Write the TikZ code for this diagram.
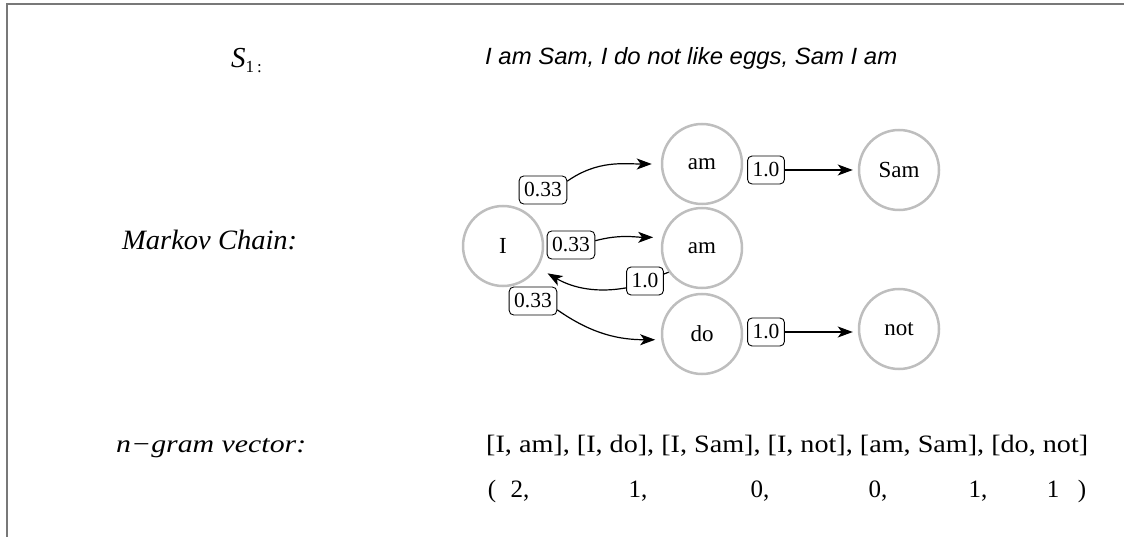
\documentclass[tikz,border=0pt]{standalone}
\usepackage{graphicx}
\usepackage{fontspec}
\setmainfont{Liberation Serif}
\newfontfamily\sentfont{Liberation Sans}
\usetikzlibrary{arrows.meta}
\definecolor{ringgray}{RGB}{190,190,190}
\definecolor{framegray}{RGB}{120,120,120}
\tikzset{
  state/.style={circle, draw=ringgray, line width=2.5pt, minimum size=80pt, inner sep=0pt, fill=white, font=\fontsize{23}{23}\selectfont},
  prob/.style={draw=black, line width=0.9pt, rounded corners=4.5pt, fill=white, inner xsep=5pt, inner ysep=0pt, minimum height=28pt, font=\fontsize{21.5}{21.5}\selectfont},
  arr/.style={-{Stealth[length=15pt,width=11pt,inset=4pt]}, line width=1.2pt},
  plain/.style={line width=1.2pt},
  lbl/.style={inner sep=0pt, anchor=base west},
  vec/.style={inner sep=0pt, anchor=base, font=\fontsize{25}{25}\selectfont},
}
\begin{document}
\begin{tikzpicture}[x=1pt,y=1pt]
\useasboundingbox (0,0) rectangle (1124,-537);
\draw[framegray, line width=2pt] (7,-537) -- (7,-4.5) -- (1124,-4.5);

% header
\node[lbl] (s1) at (231,-68) {{\fontsize{29}{29}\selectfont\itshape S}\raisebox{-5pt}{\fontsize{17}{17}\selectfont 1\,:}};
\node[lbl] (sent) at (485,-65) {\resizebox{412pt}{\height}{\sentfont\itshape\fontsize{23.5}{23.5}\selectfont I am Sam, I do not like eggs, Sam I am}};

% markov chain
\node[lbl] (mc) at (122,-250) {\resizebox{175pt}{\height}{\itshape\fontsize{28}{28}\selectfont Markov Chain:}};

\node[state] (I) at (503,-246) {I};
\node[state] (am1) at (702,-164) {am};
\node[state] (am2) at (702,-248) {am};
\node[state] (do) at (702,-334) {do};
\node[state] (Sam) at (899,-170) {Sam};
\node[state] (not) at (899,-329) {not};

\node[prob] (pA) at (543,-190) {0.33};
\node[prob] (pB) at (571,-245) {0.33};
\node[prob] (pC) at (645,-281) {1.0};
\node[prob] (pD) at (533,-301) {0.33};
\node[prob] (pE) at (766,-170) {1.0};
\node[prob] (pF) at (766,-332) {1.0};

\draw[arr, shorten >=9pt] (pA.20) to[out=35,in=180] (am1.west);
\draw[arr, shorten >=9pt] (pB.10) to[out=15,in=180] (am2.165);
\draw[plain] (am2.216) -- (pC);
\draw[arr, shorten >=11pt] (pC.200) to[out=190,in=-30] (I.-32);
\draw[arr, shorten >=6pt] (pD.-20) to[out=-35,in=180] (do.188);
\draw[arr, shorten >=5pt] (pE.east) -- (pE.east -| Sam.west);
\draw[arr, shorten >=5pt] (pF.east) -- (pF.east -| not.west);

% n-gram vector
\node[lbl] (ng) at (116,-452) {\resizebox{190pt}{\height}{\itshape\fontsize{25}{25}\selectfont n−gram vector:}};
\node[lbl] (row1) at (486,-452) {\resizebox{602pt}{\height}{\fontsize{25}{25}\selectfont [I, am], [I, do], [I, Sam], [I, not], [am, Sam], [do, not]}};
\node[vec] (lp) at (492,-497) {(};
\node[vec] (v1) at (520,-497) {2,};
\node[vec] (v2) at (638,-497) {1,};
\node[vec] (v3) at (760,-497) {0,};
\node[vec] (v4) at (878,-497) {0,};
\node[vec] (v5) at (978,-497) {1,};
\node[vec] (v6) at (1053,-497) {1};
\node[vec] (rp) at (1082,-497) {)};
\end{tikzpicture}
\end{document}
